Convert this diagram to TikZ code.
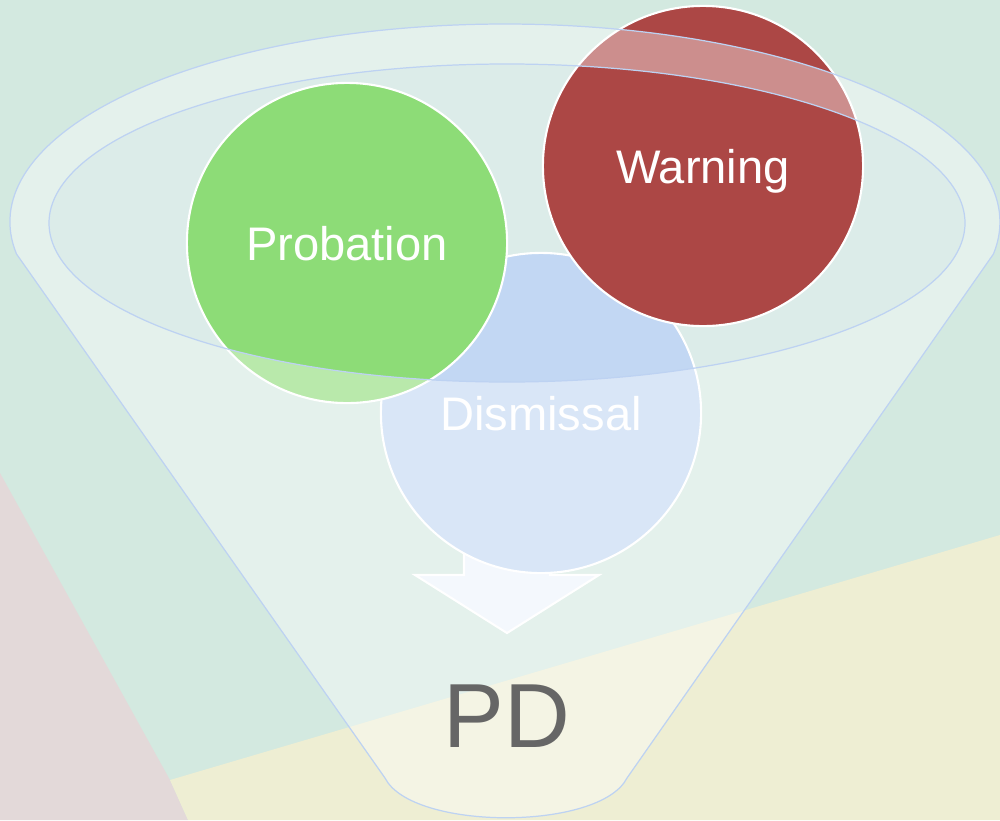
\documentclass[tikz,border=0pt]{standalone}
\usepackage{fontspec}
\setmainfont{Liberation Sans}
\usepackage{tikz}
\usepackage{color,xcolor}
\definecolor{mint}{HTML}{D3E9E0}
\definecolor{rose}{HTML}{E3D9D9}
\definecolor{sand}{HTML}{EEEED3}
\definecolor{gr}{HTML}{8DDC77}
\definecolor{rd}{HTML}{AC4745}
\definecolor{bl}{HTML}{C2D7F3}
\definecolor{rim}{HTML}{BDD2F2}
\definecolor{pd}{HTML}{666666}
\definecolor{arw}{HTML}{EEF4FC}

\begin{document}
\begin{tikzpicture}[x=0.01cm,y=0.01cm,
    ball/.style={circle,minimum size=3.2cm,inner sep=0pt,draw=white,line width=0.6pt,
      text=white,text depth=0pt,font=\fontsize{13.4}{16}\selectfont},
    rimline/.style={draw=rim,line width=0.35pt}]
            \useasboundingbox (0,0) rectangle (1000,820);
            \fill[mint] (0,0) rectangle (1000,820);
            \fill[rose] (0,347) -- (170,40) -- (188,0) -- (0,0) -- cycle;
            \fill[sand] (170,40) -- (1000,285) -- (1000,0) -- (188,0) -- cycle;
            \fill[arw,opacity=0.35] (507,597) ellipse [x radius=458, y radius=159];
            \draw[fill=arw,draw=white,line width=0.6pt] (464,407) -- (464,245) -- (415,245) -- (507,187) -- (599,245) -- (550,245) -- (550,407);
            \node[ball,fill=bl] (dismissal) at (541,407) {Dismissal};
            \node[ball,fill=gr] (probation) at (347,577) {Probation};
            \node[ball,fill=rd] (warning) at (703,654) {Warning};
            \fill[white,opacity=0.39,even odd rule] (16.5,566) arc[start angle=189.3,end angle=-9.3,x radius=495,y radius=198]
                -- (627,42) .. controls (600,-11) and (412,-11) .. (385,42) -- cycle
                (507,597) ellipse [x radius=458, y radius=159];
            \draw[rimline] (16.5,566) arc[start angle=189.3,end angle=-9.3,x radius=495,y radius=198]
                -- (627,42) .. controls (600,-11) and (412,-11) .. (385,42) -- cycle;
            \draw[rimline] (507,597) ellipse [x radius=458, y radius=159];
            \node[text=pd,font=\fontsize{25.9}{30}\selectfont] (pd) at (507,104) {PD};
          \end{tikzpicture}
\end{document}
